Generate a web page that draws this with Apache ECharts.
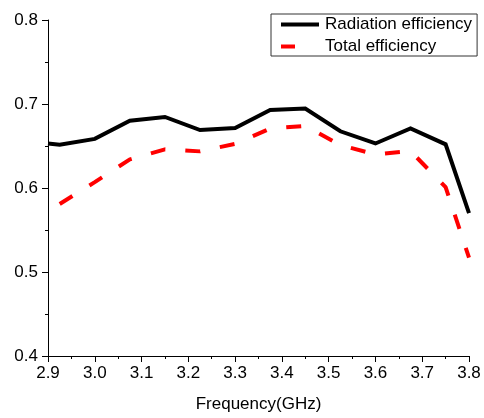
<!DOCTYPE html>
<html>
<head>
<meta charset="utf-8">
<script src="https://cdn.jsdelivr.net/npm/echarts@6/dist/echarts.min.js"></script>
<style>html,body{margin:0;padding:0;background:#fff;overflow:hidden}#c{width:484px;height:418px}</style>
</head>
<body>
<div id="c"></div>
<script>
var radFreq = [2.9, 2.925, 3.0, 3.075, 3.15, 3.225, 3.3, 3.375, 3.45, 3.525, 3.6, 3.675, 3.75, 3.8];
var radEff  = [0.653, 0.6515, 0.6585, 0.680, 0.6846, 0.669, 0.6713, 0.6928, 0.6947, 0.6675, 0.653, 0.671, 0.652, 0.570];
var totFreq = [2.925, 3.0, 3.075, 3.15, 3.225, 3.3, 3.375, 3.45, 3.525, 3.6, 3.675, 3.75, 3.8];
var totEff  = [0.581, 0.607, 0.634, 0.646, 0.6436, 0.6526, 0.6708, 0.674, 0.651, 0.640, 0.644, 0.601, 0.517];
var seriesNames = ['Radiation efficiency', 'Total efficiency'];
var xTitle = 'Frequency(GHz)';

function pairs(xs, ys) { return xs.map(function (x, i) { return [x, ys[i]]; }); }

var FONT = '"Liberation Sans", Arial, sans-serif';
var chart = echarts.init(document.getElementById('c'), null, {renderer: 'canvas'});
chart.setOption({
  animation: false,
  backgroundColor: '#fff',
  grid: {left: 48, width: 421, top: 20, height: 342, containLabel: false},
  legend: {
    orient: 'vertical',
    left: 271, top: 14,
    padding: [2, 5, 1, 8],
    itemGap: 5,
    itemWidth: 38, itemHeight: 14,
    borderColor: '#333', borderWidth: 1,
    backgroundColor: '#fff',
    itemStyle: {opacity: 0},
    textStyle: {fontFamily: FONT, fontSize: 17, lineHeight: 17, color: '#000', padding: [0, 0, 0, 1]},
    data: [
      {name: seriesNames[0], lineStyle: {width: 4}},
      {name: seriesNames[1], lineStyle: {width: 4, type: [14, 40]}}
    ]
  },
  xAxis: {
    type: 'value', min: 2.9, max: 3.8, interval: 0.1,
    name: xTitle, nameLocation: 'middle', nameGap: 40,
    nameTextStyle: {fontFamily: FONT, fontSize: 17, color: '#000'},
    axisLine: {show: true, onZero: false, lineStyle: {color: '#000', width: 1}},
    axisTick: {show: true, inside: false, length: 6, lineStyle: {color: '#000'}},
    minorTick: {show: true, splitNumber: 2, length: 3, lineStyle: {color: '#000'}},
    splitLine: {show: false},
    axisLabel: {fontFamily: FONT, fontSize: 17, color: '#000', margin: 9,
      formatter: function (v) { return v.toFixed(1); }}
  },
  yAxis: {
    type: 'value', min: 0.4, max: 0.8, interval: 0.1,
    axisLine: {show: true, onZero: false, lineStyle: {color: '#000', width: 1}},
    axisTick: {show: true, inside: false, length: 6, lineStyle: {color: '#000'}},
    minorTick: {show: true, splitNumber: 2, length: 3, lineStyle: {color: '#000'}},
    splitLine: {show: false},
    axisLabel: {fontFamily: FONT, fontSize: 17, color: '#000', margin: 10,
      formatter: function (v) { return v.toFixed(1); }}
  },
  series: [
    {
      name: seriesNames[0], type: 'line', data: pairs(radFreq, radEff),
      symbol: 'none', showSymbol: false, color: '#000',
      lineStyle: {color: '#000', width: 4, join: 'miter'}
    },
    {
      name: seriesNames[1], type: 'line', data: pairs(totFreq, totEff),
      symbol: 'none', showSymbol: false, color: '#ff0000',
      lineStyle: {color: '#ff0000', width: 4, type: [15, 20], cap: 'butt'}
    }
  ]
});
</script>
</body>
</html>
